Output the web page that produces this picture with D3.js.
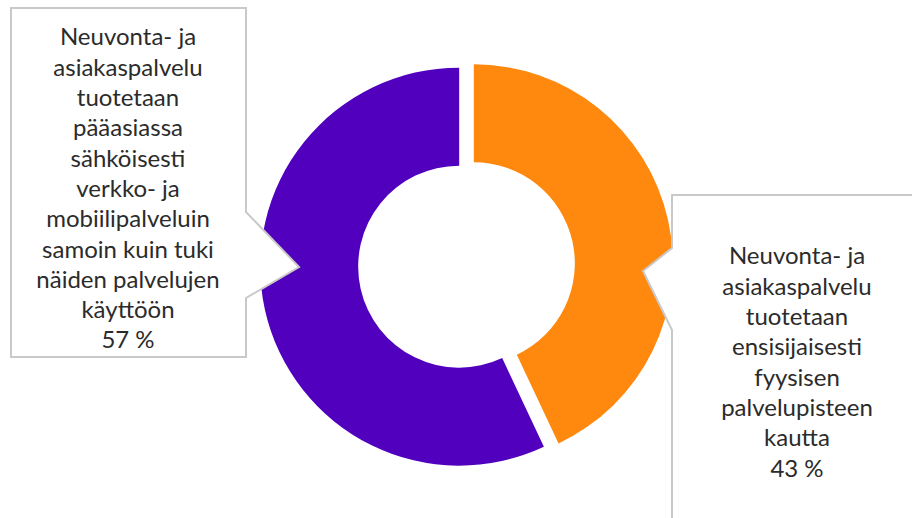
<!DOCTYPE html>
<html><head><meta charset="utf-8">
<script src="https://cdn.jsdelivr.net/npm/d3@7"></script>
<style>html,body{margin:0;padding:0;background:#fff;overflow:hidden}</style>
</head><body>
<svg id="chart" width="912" height="518"></svg>
<script>
// Data
const categories = [
  ["Neuvonta- ja","asiakaspalvelu","tuotetaan","ensisijaisesti","fyysisen","palvelupisteen","kautta"],
  ["Neuvonta- ja","asiakaspalvelu","tuotetaan","pääasiassa","sähköisesti","verkko- ja","mobiilipalveluin","samoin kuin tuki","näiden palvelujen","käyttöön"]
];
const values = [43, 57];
const valueLabels = ["43 %", "57 %"];
const colors = ["#FF890E", "#5100BE"];

const svg = d3.select("#chart");
const cx = 466.5, cy = 265, R = 199, r = 101, explode = 7.5;

const pie = d3.pie().sort(null).value(d => d)(values);
const arc = d3.arc().innerRadius(r).outerRadius(R);

const g = svg.append("g").attr("transform", `translate(${cx},${cy})`);
g.selectAll("path").data(pie).join("path")
  .attr("d", arc)
  .attr("fill", (d, i) => colors[i])
  .attr("transform", d => {
    const a = (d.startAngle + d.endAngle) / 2;
    return `translate(${explode * Math.sin(a)},${-explode * Math.cos(a)})`;
  });

// Callout boxes
const boxes = [
  { // orange (right)
    path: [[672,195],[930,195],[930,540],[672,540],[672,330],[643,271],[672,248]],
    cx: 797, y0: 256
  },
  { // purple (left)
    path: [[11,8],[246,8],[246,212],[299,267],[246,298],[246,357],[11,357]],
    cx: 128, y0: 37
  }
];
const fontFamily = "Lato, 'Open Sans', sans-serif";
// fit font size so "asiakaspalvelu" ~166px wide
const probe = svg.append("text").attr("font-family", fontFamily).attr("font-size", 22).text("asiakaspalvelu");
const w = probe.node().getComputedTextLength();
probe.remove();
const fs = Math.min(24, 22 * 166 / w);

boxes.forEach((b, i) => {
  svg.append("path")
    .attr("d", d3.line()(b.path) + "Z")
    .attr("fill", "#fff")
    .attr("stroke", "#c9c9c9")
    .attr("stroke-width", 2);
  const lines = categories[i].concat([valueLabels[i]]);
  const t = svg.append("text")
    .attr("font-family", fontFamily)
    .attr("font-size", fs)
    .attr("fill", "#2b2b2b")
    .attr("text-anchor", "middle");
  lines.forEach((ln, k) => {
    t.append("tspan").attr("x", b.cx).attr("y", b.y0 + k * 30.3).attr("dy", "0.35em").text(ln);
  });
});
</script>
</body></html>
